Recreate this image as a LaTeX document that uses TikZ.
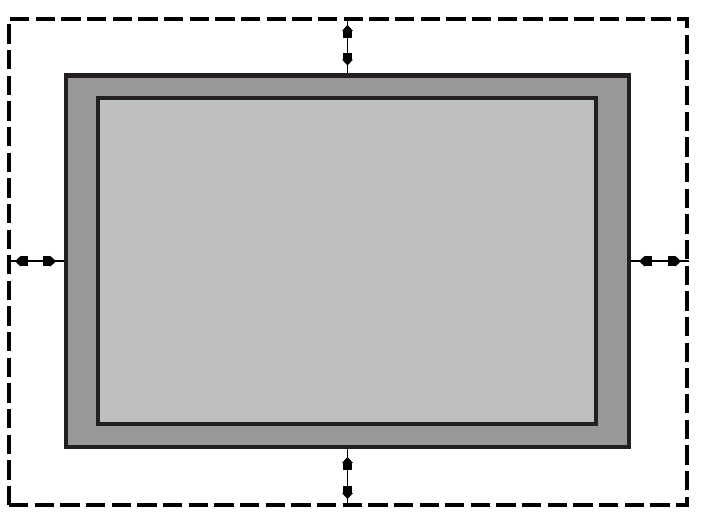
\documentclass[tikz,border=0pt]{standalone}
\usepackage[dvipsnames]{xcolor}
\usetikzlibrary{arrows.meta}

\definecolor{inkline}{RGB}{35,31,32}
\definecolor{framegray}{RGB}{152,152,154}
\definecolor{screengray}{RGB}{190,191,193}

\begin{document}
\begin{tikzpicture}[thick]
\tikzstyle{margin}=[rectangle, inner sep=0, line width=2.3pt, dash pattern=on 11pt off 3.6pt, draw=black]
\tikzstyle{panel}=[rectangle, inner sep=0, line width=2.3pt, draw=inkline]
\tikzstyle{dim}=[line width=1pt, draw=black, postaction={draw, {Triangle[length=3.4pt,width=6pt,sep=4.5pt] Rectangle[length=4pt,width=5.4pt]}-{Rectangle[length=4pt,width=5.4pt] Triangle[length=3.4pt,width=6pt,sep=4.5pt]}}]

	\useasboundingbox (0,0) rectangle (14.1,10.52);

	%rectangles
	\node[margin, minimum width=13.56cm, minimum height=9.72cm] (clear) at (6.96,5.28) {};
	\node[panel, fill=framegray, minimum width=11.26cm, minimum height=7.43cm] (frame) at (6.95,5.295) {};
	\node[panel, fill=screengray, minimum width=9.96cm, minimum height=6.52cm] (screen) at (6.94,5.30) {};

	%paths
	\draw[dim] (frame.north) -- (frame.north |- clear.north);
	\draw[dim] (frame.south) -- (frame.south |- clear.south);
	\draw[dim] (frame.west) -- (frame.west -| clear.west);
	\draw[dim] (frame.east) -- (frame.east -| clear.east);

\end{tikzpicture}
\end{document}
